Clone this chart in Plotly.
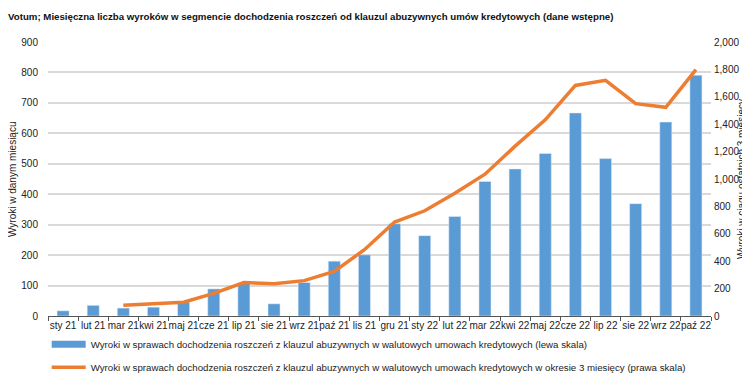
import plotly.graph_objects as go

months = ["sty 21", "lut 21", "mar 21", "kwi 21", "maj 21", "cze 21", "lip 21", "sie 21",
          "wrz 21", "paź 21", "lis 21", "gru 21", "sty 22", "lut 22", "mar 22", "kwi 22",
          "maj 22", "cze 22", "lip 22", "sie 22", "wrz 22", "paź 22"]
monthly = [17, 35, 26, 29, 45, 89, 108, 40, 110, 180, 201, 303, 264, 327, 442, 483,
           534, 667, 517, 369, 637, 791]
three_month = [None, None, 78, 90, 100, 165, 244, 236, 258, 326, 484, 686, 768, 896, 1035, 1240,
               1432, 1683, 1720, 1550, 1523, 1798]

left_ticks = [0, 100, 200, 300, 400, 500, 600, 700, 800, 900]
right_ticks = [0, 200, 400, 600, 800, 1000, 1200, 1400, 1600, 1800, 2000]

title = "Votum; Miesięczna liczba wyroków w segmencie dochodzenia roszczeń od klauzul abuzywnych umów kredytowych (dane wstępne)"
name_bar = "Wyroki w sprawach dochodzenia roszczeń z klauzul abuzywnych w walutowych umowach kredytowych (lewa skala)"
name_line = "Wyroki w sprawach dochodzenia roszczeń z klauzul abuzywnych w walutowych umowach kredytowych w okresie 3 miesięcy (prawa skala)"
left_title = "Wyroki w danym miesiącu"
right_title = "Wyroki w ciągu ostatnich 3 miesięcy"

FONT = "Liberation Sans Narrow, Arial Narrow, Liberation Sans, Arial, sans-serif"
BLUE = "#5B9BD5"
ORANGE = "#ED7D31"

fig = go.Figure()
fig.add_trace(go.Bar(x=months, y=monthly, name=name_bar, marker_color=BLUE,
                     width=0.4, yaxis="y", showlegend=False))
# legend entry for the bars, drawn as a wide swatch like the original
fig.add_trace(go.Scatter(x=[None], y=[None], name=name_bar, mode="lines",
                         line=dict(color=BLUE, width=7), yaxis="y", legendgroup="a"))
fig.add_trace(go.Scatter(x=months, y=three_month, name=name_line, mode="lines",
                         line=dict(color=ORANGE, width=3.5), yaxis="y2", legendgroup="b"))

fig.update_layout(
    width=750, height=377,
    margin=dict(l=40, r=47, t=34, b=69, autoexpand=False),
    paper_bgcolor="white", plot_bgcolor="white",
    font=dict(family=FONT, size=10, color="#222"),
    title=dict(text="<b>" + title + "</b>", x=0.0, xanchor="left", y=0.978, yanchor="middle",
               pad=dict(l=0, t=0, b=0, r=0),
               font=dict(family=FONT, size=9.7, color="#111")),
    showlegend=True,
    legend=dict(orientation="v", x=-0.002, xanchor="left", y=-0.05, yanchor="top",
                font=dict(family=FONT, size=9.7, color="#222"), itemwidth=34,
                tracegroupgap=4, bgcolor="rgba(0,0,0,0)"),
    xaxis=dict(type="category", showgrid=False, showline=True, linecolor="#555", linewidth=1,
               ticks="outside", tickson="boundaries", ticklen=4, tickcolor="#555",
               tickfont=dict(size=10), tickangle=0, range=[-0.5, 21.5]),
    yaxis=dict(range=[0, 900], tickvals=left_ticks, tickformat=",", showgrid=True,
               gridcolor="#D9D9D9", gridwidth=1.5, zeroline=False, showline=False,
               ticklabelstandoff=9, tickfont=dict(size=10)),
    yaxis2=dict(range=[0, 2000], tickvals=right_ticks, tickformat=",", overlaying="y",
                side="right", showgrid=False, zeroline=False, showline=False,
                ticklabelstandoff=2, tickfont=dict(size=10)),
    annotations=[
        dict(text=left_title, textangle=-90, xref="paper", yref="paper",
             x=(4 - 40) / 663, y=0.5, xanchor="center", yanchor="middle", showarrow=False,
             font=dict(family=FONT, size=10, color="#222")),
        dict(text=right_title, textangle=-90, xref="paper", yref="paper",
             x=(733 - 40) / 663, y=0.5, xanchor="center", yanchor="middle", showarrow=False,
             font=dict(family=FONT, size=10, color="#222")),
    ],
)

fig.write_html("out.html")
